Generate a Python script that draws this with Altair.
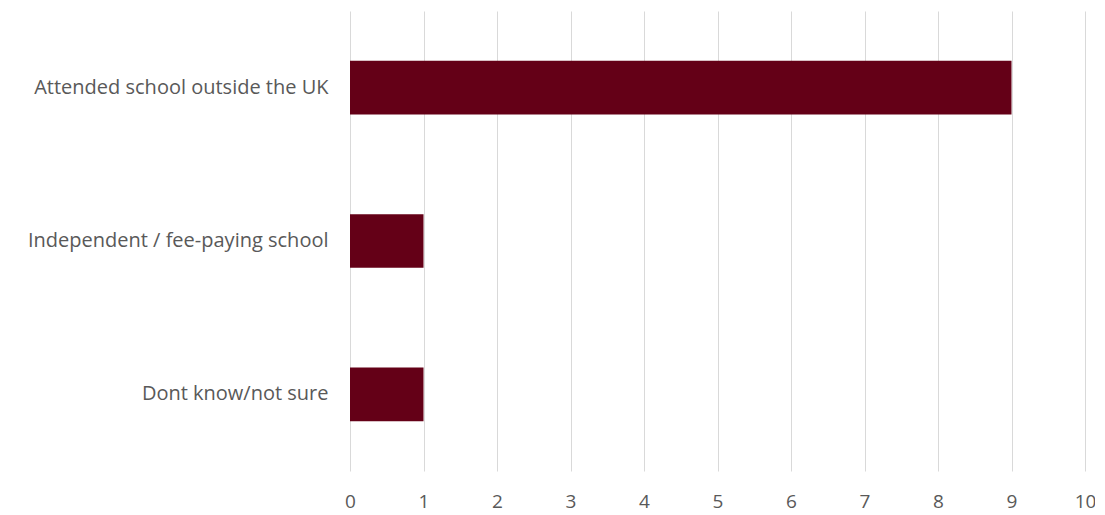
import altair as alt
import pandas as pd

categories = ["Attended school outside the UK", "Independent / fee-paying school", "Dont know/not sure"]
values = [9, 1, 1]

df = pd.DataFrame({"category": categories, "value": values})

chart = alt.Chart(df).mark_bar(color="#640017").encode(
    x=alt.X("value:Q",
            scale=alt.Scale(domain=[0, 10], nice=False, zero=True),
            axis=alt.Axis(title=None, values=list(range(0, 11)), format="d",
                          grid=True, gridColor="#d9d9d9", gridWidth=1,
                          domain=False, ticks=False, labelFlush=False,
                          labelFont="Open Sans", labelFontSize=19, labelColor="#595959",
                          labelPadding=21)),
    y=alt.Y("category:N", sort=categories,
            scale=alt.Scale(paddingInner=0.65, paddingOuter=0.325),
            axis=alt.Axis(title=None, grid=False, domain=False, ticks=False,
                          labelFont="Open Sans", labelFontSize=20, labelColor="#595959",
                          labelPadding=22, labelLimit=400)),
).properties(
    width=735, height=460,
    autosize=alt.AutoSizeParams(type="none"),
    padding={"left": 342, "top": 3, "right": 10, "bottom": 44},
).configure_view(stroke=None)

chart.save("out.html", embed_options={"renderer": "svg", "actions": False})
